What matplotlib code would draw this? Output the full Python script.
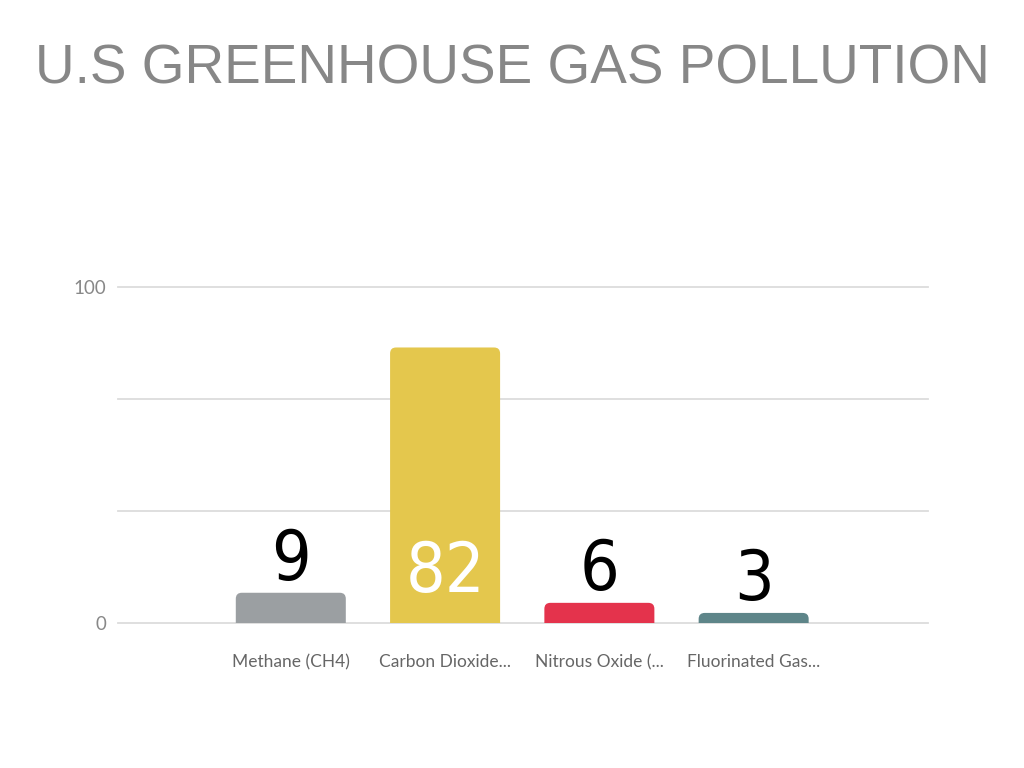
import matplotlib
matplotlib.use("Agg")
import matplotlib.pyplot as plt
from matplotlib.patches import FancyBboxPatch

# chart data
categories = ["Methane (CH4)", "Carbon Dioxide...", "Nitrous Oxide (...", "Fluorinated Gas..."]
values = [9, 82, 6, 3]
bar_colors = ["#9b9fa2", "#e4c74d", "#e4334c", "#5e8589"]
label_colors = ["black", "white", "black", "black"]
y_ticks = [0, 100]
grid_lines = [0, 100 / 3, 200 / 3, 100]

W, H = 1024, 768
fig = plt.figure(figsize=(W / 100, H / 100), dpi=100)
fig.patch.set_facecolor("white")

left, right, bottom, top = 118, 928, 623, 287
ax = fig.add_axes([left / W, 1 - bottom / H, (right - left) / W, (bottom - top) / H])

xlim = (-1.12, 4.13)
ylim = (0, 100)
ax.set_xlim(*xlim)
ax.set_ylim(*ylim)

for g in grid_lines:
    ax.axhline(g, color="#dcdcdc", lw=1.3, zorder=0, clip_on=False)

xs = list(range(len(values)))
bars = ax.bar(xs, values, width=0.713, color=bar_colors, zorder=2)

# swap the plain rectangles for ones with rounded top corners
px_x = (right - left) / (xlim[1] - xlim[0])
px_y = (bottom - top) / (ylim[1] - ylim[0])
aspect = px_x / px_y
radius = 6 / px_x
for b in bars:
    b.set_visible(False)
    x0, w, h = b.get_x(), b.get_width(), b.get_height()
    ext = 10 / px_y  # push the bottom below 0 so only top corners show
    p = FancyBboxPatch((x0, -ext), w, h + ext,
                       boxstyle="round,pad=0,rounding_size=%f" % radius,
                       mutation_aspect=aspect, facecolor=b.get_facecolor(),
                       edgecolor="none", zorder=2, clip_on=True)
    ax.add_patch(p)

# value labels
for x, v, c in zip(xs, values, label_colors):
    if c == "white":
        y = 9.2
    else:
        y = v + 13 / px_y
    ax.text(x, y, str(v), ha="center", va="baseline", color=c,
            family="DejaVu Sans", fontstretch="condensed",
            fontweight="light", fontsize=50, zorder=3)

ax.set_yticks(y_ticks)
ax.set_yticklabels([str(t) for t in y_ticks], color="#888888", fontsize=13.5,
                   family="Lato")
ax.set_xticks(xs)
ax.set_xticklabels(categories, color="#666666", fontsize=12.5, family="Lato")
ax.tick_params(axis="y", length=0, pad=8.5)
ax.tick_params(axis="x", length=0, pad=22.5)
for s in ax.spines.values():
    s.set_visible(False)
ax.patch.set_visible(False)

fig.text(0.5, 1 - 70 / H, "U.S GREENHOUSE GAS POLLUTION", ha="center",
         va="center", color="#878787", fontsize=39.5, family="Liberation Sans")

fig.savefig("out.png", dpi=100)
